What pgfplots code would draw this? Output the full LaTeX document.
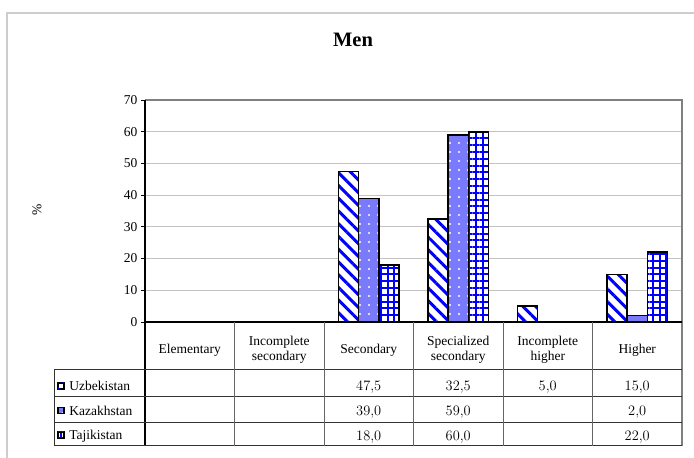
\documentclass[border=0pt]{standalone}
\usepackage{pgfplots}
\pgfplotsset{compat=1.18}
\usetikzlibrary{patterns.meta}
\usepackage{fontspec}
\setmainfont{Liberation Serif}

\definecolor{gridgray}{RGB}{195,195,195}
\definecolor{boxgray}{RGB}{128,128,128}
\definecolor{framegray}{RGB}{205,205,205}
\definecolor{kzblue}{RGB}{122,122,252}

\newcommand\tabfont{\fontsize{13.5}{14.5}\selectfont}

\pgfplotsset{
  uzb/.style={draw=black, line width=1.6pt, preaction={fill=white},
    pattern={Lines[angle=-45,distance=9pt,line width=3pt]}, pattern color=blue},
  kaz/.style={draw=black, line width=1.6pt, preaction={fill=kzblue},
    pattern={Dots[distance=9pt,radius=1.1pt]}, pattern color=white},
  taj/.style={draw=black, line width=1.6pt, preaction={fill=white},
    pattern={Hatch[angle=0,distance=6.8pt,line width=2.1pt]}, pattern color=blue},
}

\begin{document}
\begin{tikzpicture}[x=1pt,y=1pt]
\useasboundingbox (0,0) rectangle (694,458);
% chart frame
\draw[framegray, line width=1.5pt] (7,-5) -- (7,445) -- (700,445);
% title and unit
\node[font=\bfseries\fontsize{20.5}{24}\selectfont] at (353,418) {Men};
\node[rotate=90, font=\tabfont] at (37,248) {\%};

\begin{axis}[
  at={(145pt,136pt)}, anchor=south west, scale only axis,
  width=537pt, height=222pt,
  xmin=-0.5, xmax=5.5, ymin=0, ymax=70,
  ybar=0pt, bar width=20.2pt,
  axis line style={draw=none},
  ytick={0,10,...,70}, ytick pos=left,
  ymajorgrids, grid style={gridgray, line width=0.8pt},
  tick align=outside, major tick length=4pt,
  ytick style={black, line width=0.8pt},
  xtick={0,...,5}, xtick style={draw=none},
  xticklabels={Elementary, {Incomplete\\secondary}, Secondary,
    {Specialized\\secondary}, {Incomplete\\higher}, Higher},
  xticklabel style={align=center, anchor=center, yshift=-24pt, font=\tabfont},
  yticklabel style={font=\tabfont},
  /pgf/number format/assume math mode=true,
  clip=false,
]
\addplot[uzb] coordinates {(2,47.5) (3,32.5) (4,5.0) (5,15.0)};
\addplot[kaz] coordinates {(2,39.0) (3,59.0) (5,2.0)};
\addplot[taj] coordinates {(2,18.0) (3,60.0) (5,22.0)};
\end{axis}

% plot area border and axis lines
\draw[boxgray, line width=1.5pt] (145,358) -- (682,358) -- (682,12);
\draw[black, line width=1.5pt] (145,358) -- (145,12);
\draw[black, line width=1.5pt] (145,136) -- (682,136);

% data table grid
\foreach \yy in {88.7,61.7,35.3,12.3}
  \draw[black!80, line width=0.9pt] (54,\yy) -- (682,\yy);
\draw[black!80, line width=0.9pt] (54,88.7) -- (54,12.3);
\foreach \xx in {234.5,324,413.5,503,592.5}
  \draw[black!60, line width=1pt] (\xx,136) -- (\xx,12.3);

% data table values and series keys
\begin{axis}[
  at={(145pt,12pt)}, anchor=south west, scale only axis,
  width=537pt, height=124pt,
  xmin=-0.5, xmax=5.5, ymin=-124, ymax=0,
  hide axis, clip=false,
  nodes near coords, point meta=explicit,
  every node near coord/.append style={anchor=base, yshift=-4.6pt, font=\tabfont},
  /pgf/number format/.cd, fixed, fixed zerofill, precision=1, use comma,
  /pgfplots/.cd,
  legend cell align=left,
  legend image code/.code={\draw[#1, line width=0.8pt] (0pt,-3pt) rectangle (6pt,3pt);},
  legend style={draw=none, fill=none, inner sep=0pt, outer sep=0pt,
    row sep=0pt, column sep=5pt,
    at={(axis cs:-1.4777,-51.75)}, anchor=north west,
    nodes={inner sep=0pt, text height=16.85pt, text depth=7.65pt, font=\tabfont}},
]
\addplot[draw=none, forget plot] coordinates {(2,-63.5) [47.5] (3,-63.5) [32.5] (4,-63.5) [5.0] (5,-63.5) [15.0]};
\addplot[draw=none, forget plot] coordinates {(2,-89) [39.0] (3,-89) [59.0] (5,-89) [2.0]};
\addplot[draw=none, forget plot] coordinates {(2,-113.5) [18.0] (3,-113.5) [60.0] (5,-113.5) [22.0]};
\addlegendimage{uzb}
\addlegendentry{Uzbekistan}
\addlegendimage{kaz}
\addlegendentry{Kazakhstan}
\addlegendimage{taj}
\addlegendentry{Tajikistan}
\end{axis}
\end{tikzpicture}
\end{document}
